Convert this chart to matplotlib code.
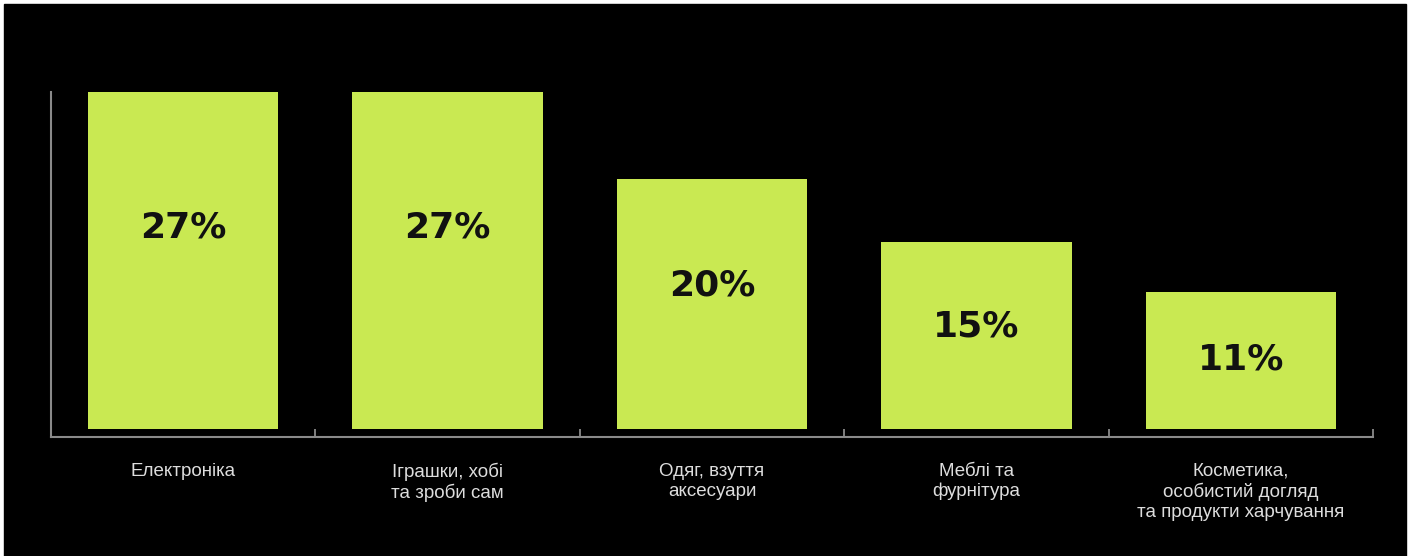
import matplotlib.pyplot as plt
from matplotlib.patches import Rectangle
import numpy as np

categories = [
    'Електроніка',
    'Іграшки, хобі\nта зроби сам',
    'Одяг, взуття\nаксесуари',
    'Меблі та\nфурнітура',
    'Косметика,\nособистий догляд\nта продукти харчування',
]
shares = [27, 27, 20, 15, 11]

fig = plt.figure(figsize=(14.14, 5.56), dpi=100)
fig.patch.set_facecolor('white')
# black panel with thin white border like the screenshot
fig.patches.append(Rectangle((4 / 1414, 0), 1402 / 1414, 552 / 556,
                             transform=fig.transFigure, color='black', zorder=-5))

ax = fig.add_axes([51 / 1414, 1 - 437 / 556, (1373 - 51) / 1414, (437 - 92) / 556])
ax.set_facecolor('none')

x = np.arange(len(categories))
bars = ax.bar(x, shares, width=0.72, color='#c9e952')

for xi, v in zip(x, shares):
    ax.text(xi, 0.66 * v - 1.7, f'{v}%', ha='center', va='center',
            fontsize=26, fontweight='bold', color='#111111', family='DejaVu Sans')

ax.set_xlim(-0.5, len(categories) - 0.5)
ax.set_ylim(-0.64, 27)

for s in ['top', 'right']:
    ax.spines[s].set_visible(False)
for s in ['left', 'bottom']:
    ax.spines[s].set_color('#8a8a8a')
    ax.spines[s].set_linewidth(1.5)

ax.set_yticks([])
ax.set_xticks(x + 0.5)
ax.set_xticklabels([])
ax.tick_params(axis='x', direction='in', length=6, width=1.3, color='#8a8a8a')

for xi, lab in zip(x, categories):
    ax.text(xi, -2.7, lab, ha='center', va='top', fontsize=13.5, color='#dddddd',
            family='Liberation Sans', linespacing=1.22)

plt.savefig('out.png', dpi=100, facecolor=fig.get_facecolor())
plt.close()
